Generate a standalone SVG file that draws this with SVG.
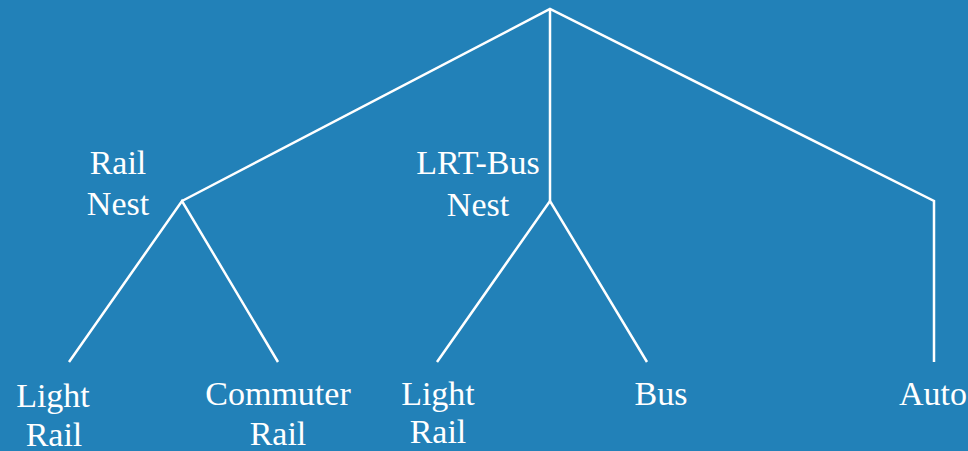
<svg xmlns="http://www.w3.org/2000/svg" width="968" height="451" viewBox="0 0 968 451">
<style>
.e{stroke:#fff;stroke-width:2.5;fill:none}
</style>
<rect fill="#2281b8" width="968" height="451"/>
<g id="connectors">
<polyline class="e" points="182,201 550,9 934,201 934,362"/>
<line class="e" x1="550" y1="9" x2="550" y2="201"/>
<polyline class="e" points="69,362 182,201 278,362"/>
<polyline class="e" points="437,362 550,201 647,362"/>
</g>
<g fill="#fff" font-family="Liberation Serif" font-size="34" text-anchor="middle">
<g id="rail-nest"><text x="118" y="174">Rail</text><text x="118" y="215">Nest</text></g>
<g id="lrt-bus-nest"><text x="478" y="174">LRT-Bus</text><text x="478" y="216">Nest</text></g>
<g id="light-rail-1"><text x="53" y="407">Light</text><text x="54" y="446">Rail</text></g>
<g id="commuter-rail"><text x="278" y="405">Commuter</text><text x="278" y="445">Rail</text></g>
<g id="light-rail-2"><text x="438" y="405">Light</text><text x="438" y="443">Rail</text></g>
<g id="bus"><text x="661" y="405">Bus</text></g>
<g id="auto"><text x="933" y="405">Auto</text></g>
</g>
</svg>
